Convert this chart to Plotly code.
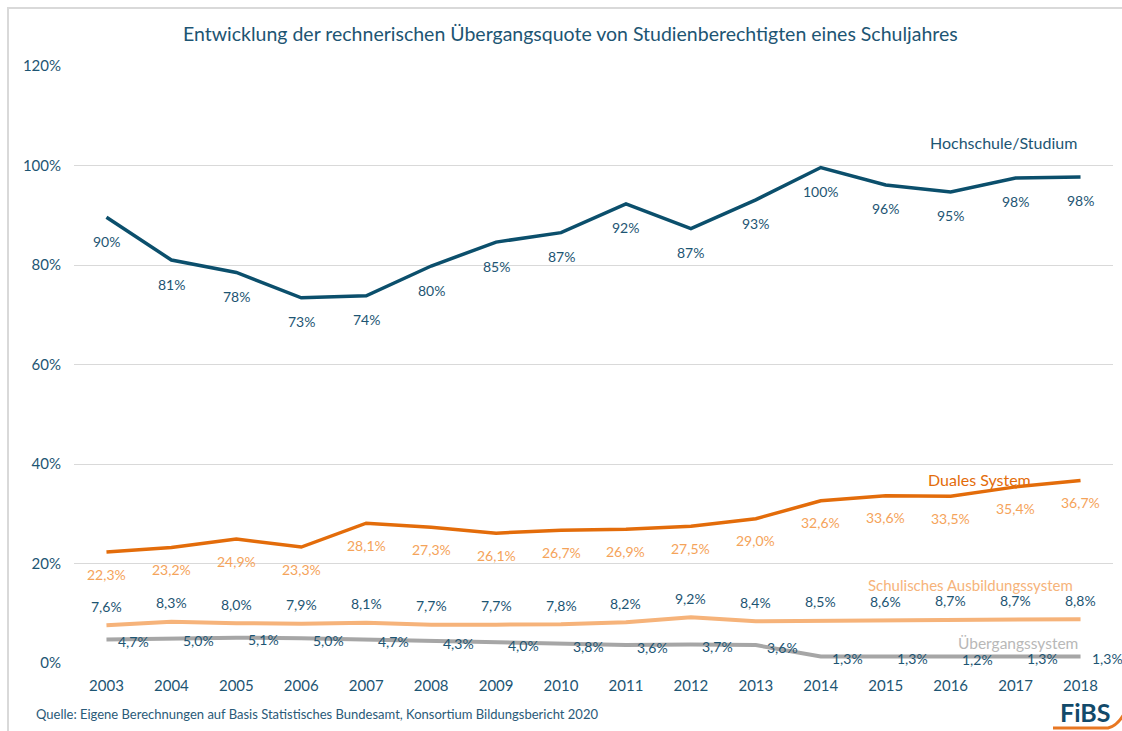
import plotly.graph_objects as go

years = [str(y) for y in range(2003, 2019)]
hochschule = [89.6, 81.0, 78.5, 73.4, 73.8, 79.8, 84.6, 86.5, 92.3, 87.3, 93.1, 99.6, 96.1, 94.7, 97.5, 97.7]
hochschule_lbl = ["90%", "81%", "78%", "73%", "74%", "80%", "85%", "87%", "92%", "87%", "93%", "100%", "96%", "95%", "98%", "98%"]
duales = [22.3, 23.2, 24.9, 23.3, 28.1, 27.3, 26.1, 26.7, 26.9, 27.5, 29.0, 32.6, 33.6, 33.5, 35.4, 36.7]
schulisch = [7.6, 8.3, 8.0, 7.9, 8.1, 7.7, 7.7, 7.8, 8.2, 9.2, 8.4, 8.5, 8.6, 8.7, 8.7, 8.8]
uebergang = [4.7, 5.0, 5.1, 5.0, 4.7, 4.3, 4.0, 3.8, 3.6, 3.7, 3.6, 1.3, 1.3, 1.2, 1.3, 1.3]
y_ticks = [0, 20, 40, 60, 80, 100, 120]

FONT = "Lato"
BLUE_TXT = "#1d5573"
C_HS = "#0b4f6c"
C_DU = "#e36c0a"
C_DU_LBL = "#f5a35a"
C_SCH = "#f6b37a"
C_UE = "#a6a6a6"

def de(v):
    return f"{v:.1f}".replace(".", ",") + "%"

fig = go.Figure()
fig.add_trace(go.Scatter(x=years, y=uebergang, mode="lines", line=dict(color=C_UE, width=4), hoverinfo="skip"))
fig.add_trace(go.Scatter(x=years, y=schulisch, mode="lines", line=dict(color=C_SCH, width=4), hoverinfo="skip"))
fig.add_trace(go.Scatter(x=years, y=duales, mode="lines", line=dict(color=C_DU, width=3.5), hoverinfo="skip"))
fig.add_trace(go.Scatter(x=years, y=hochschule, mode="lines", line=dict(color=C_HS, width=3.5), hoverinfo="skip"))

ann = []
lf = dict(family=FONT, size=14)
for i, yr in enumerate(years):
    ann.append(dict(x=i, y=hochschule[i], text=hochschule_lbl[i], showarrow=False, yshift=-24,
                    font=dict(lf, color=BLUE_TXT)))
    ann.append(dict(x=i, y=duales[i], text=de(duales[i]), showarrow=False, yshift=-22,
                    font=dict(lf, color=C_DU_LBL)))
    ann.append(dict(x=i, y=schulisch[i], text=de(schulisch[i]), showarrow=False, yshift=19,
                    font=dict(lf, color=BLUE_TXT)))
    ann.append(dict(x=i, y=uebergang[i], text=de(uebergang[i]), showarrow=False, xshift=27, yshift=-2,
                    font=dict(lf, color=BLUE_TXT)))

def px_x(p):
    return (p - 74) / 1039

def px_y(p):
    return (663 - p) / 597

ann += [
    dict(xref="paper", x=px_x(1003), y=104.6, xanchor="center", yanchor="middle", text="Hochschule/Studium",
         showarrow=False, font=dict(family=FONT, size=16, color=BLUE_TXT)),
    dict(xref="paper", x=px_x(979), y=36.8, xanchor="center", yanchor="middle", text="Duales System",
         showarrow=False, font=dict(family=FONT, size=16, color=C_DU)),
    dict(xref="paper", x=px_x(970), y=15.6, xanchor="center", yanchor="middle", text="Schulisches Ausbildungssystem",
         showarrow=False, font=dict(family=FONT, size=15, color=C_SCH)),
    dict(xref="paper", x=px_x(1018), y=4.1, xanchor="center", yanchor="middle", text="Übergangssystem",
         showarrow=False, font=dict(family=FONT, size=15.5, color="#b8b8b8")),
    dict(xref="paper", yref="paper", x=px_x(570), y=px_y(33), xanchor="center", yanchor="middle",
         text="Entwicklung der rechnerischen Übergangsquote von Studienberechtigten eines Schuljahres",
         showarrow=False, font=dict(family=FONT, size=19.5, color=BLUE_TXT)),
    dict(xref="paper", yref="paper", x=px_x(34), y=px_y(714), xanchor="left", yanchor="middle",
         text="Quelle: Eigene Berechnungen auf Basis Statistisches Bundesamt, Konsortium Bildungsbericht 2020",
         showarrow=False, font=dict(family=FONT, size=13, color="#2a5a78")),
    dict(xref="paper", yref="paper", x=px_x(1085), y=px_y(712), xanchor="center", yanchor="middle",
         text="<b>FiBS</b>", showarrow=False, font=dict(family=FONT, size=25, color="#124a6a")),
]

shapes = [
    dict(type="rect", xref="paper", yref="paper", x0=px_x(8), x1=px_x(1135), y0=px_y(740), y1=px_y(8),
         line=dict(color="#d9d9d9", width=2), layer="below"),
    dict(type="path", xref="paper", yref="paper",
         path=f"M {px_x(1053)} {px_y(728)} L {px_x(1108)} {px_y(728)} Q {px_x(1117)} {px_y(726)} {px_x(1124)} {px_y(714)}",
         line=dict(color="#e87722", width=3)),
]

fig.update_layout(
    width=1122, height=731,
    margin=dict(l=74, r=9, t=66, b=68),
    paper_bgcolor="white", plot_bgcolor="white",
    showlegend=False,
    annotations=ann, shapes=shapes,
    font=dict(family=FONT, color=BLUE_TXT),
    xaxis=dict(type="category", range=[-0.5, 15.5], showgrid=False, zeroline=False, showline=False,
               ticks="", tickfont=dict(family=FONT, size=15, color=BLUE_TXT), ticklabelstandoff=12),
    yaxis=dict(range=[0, 120], tickvals=y_ticks, ticktext=[f"{v}%" for v in y_ticks],
               showgrid=True, gridcolor="#d9d9d9", gridwidth=1, zeroline=False, showline=False,
               ticks="", tickfont=dict(family=FONT, size=15, color=BLUE_TXT), ticklabelstandoff=12),
)

fig.write_html("out.html", config={"displayModeBar": False},
               post_script="document.body.style.margin='0';document.body.style.overflow='hidden';")
